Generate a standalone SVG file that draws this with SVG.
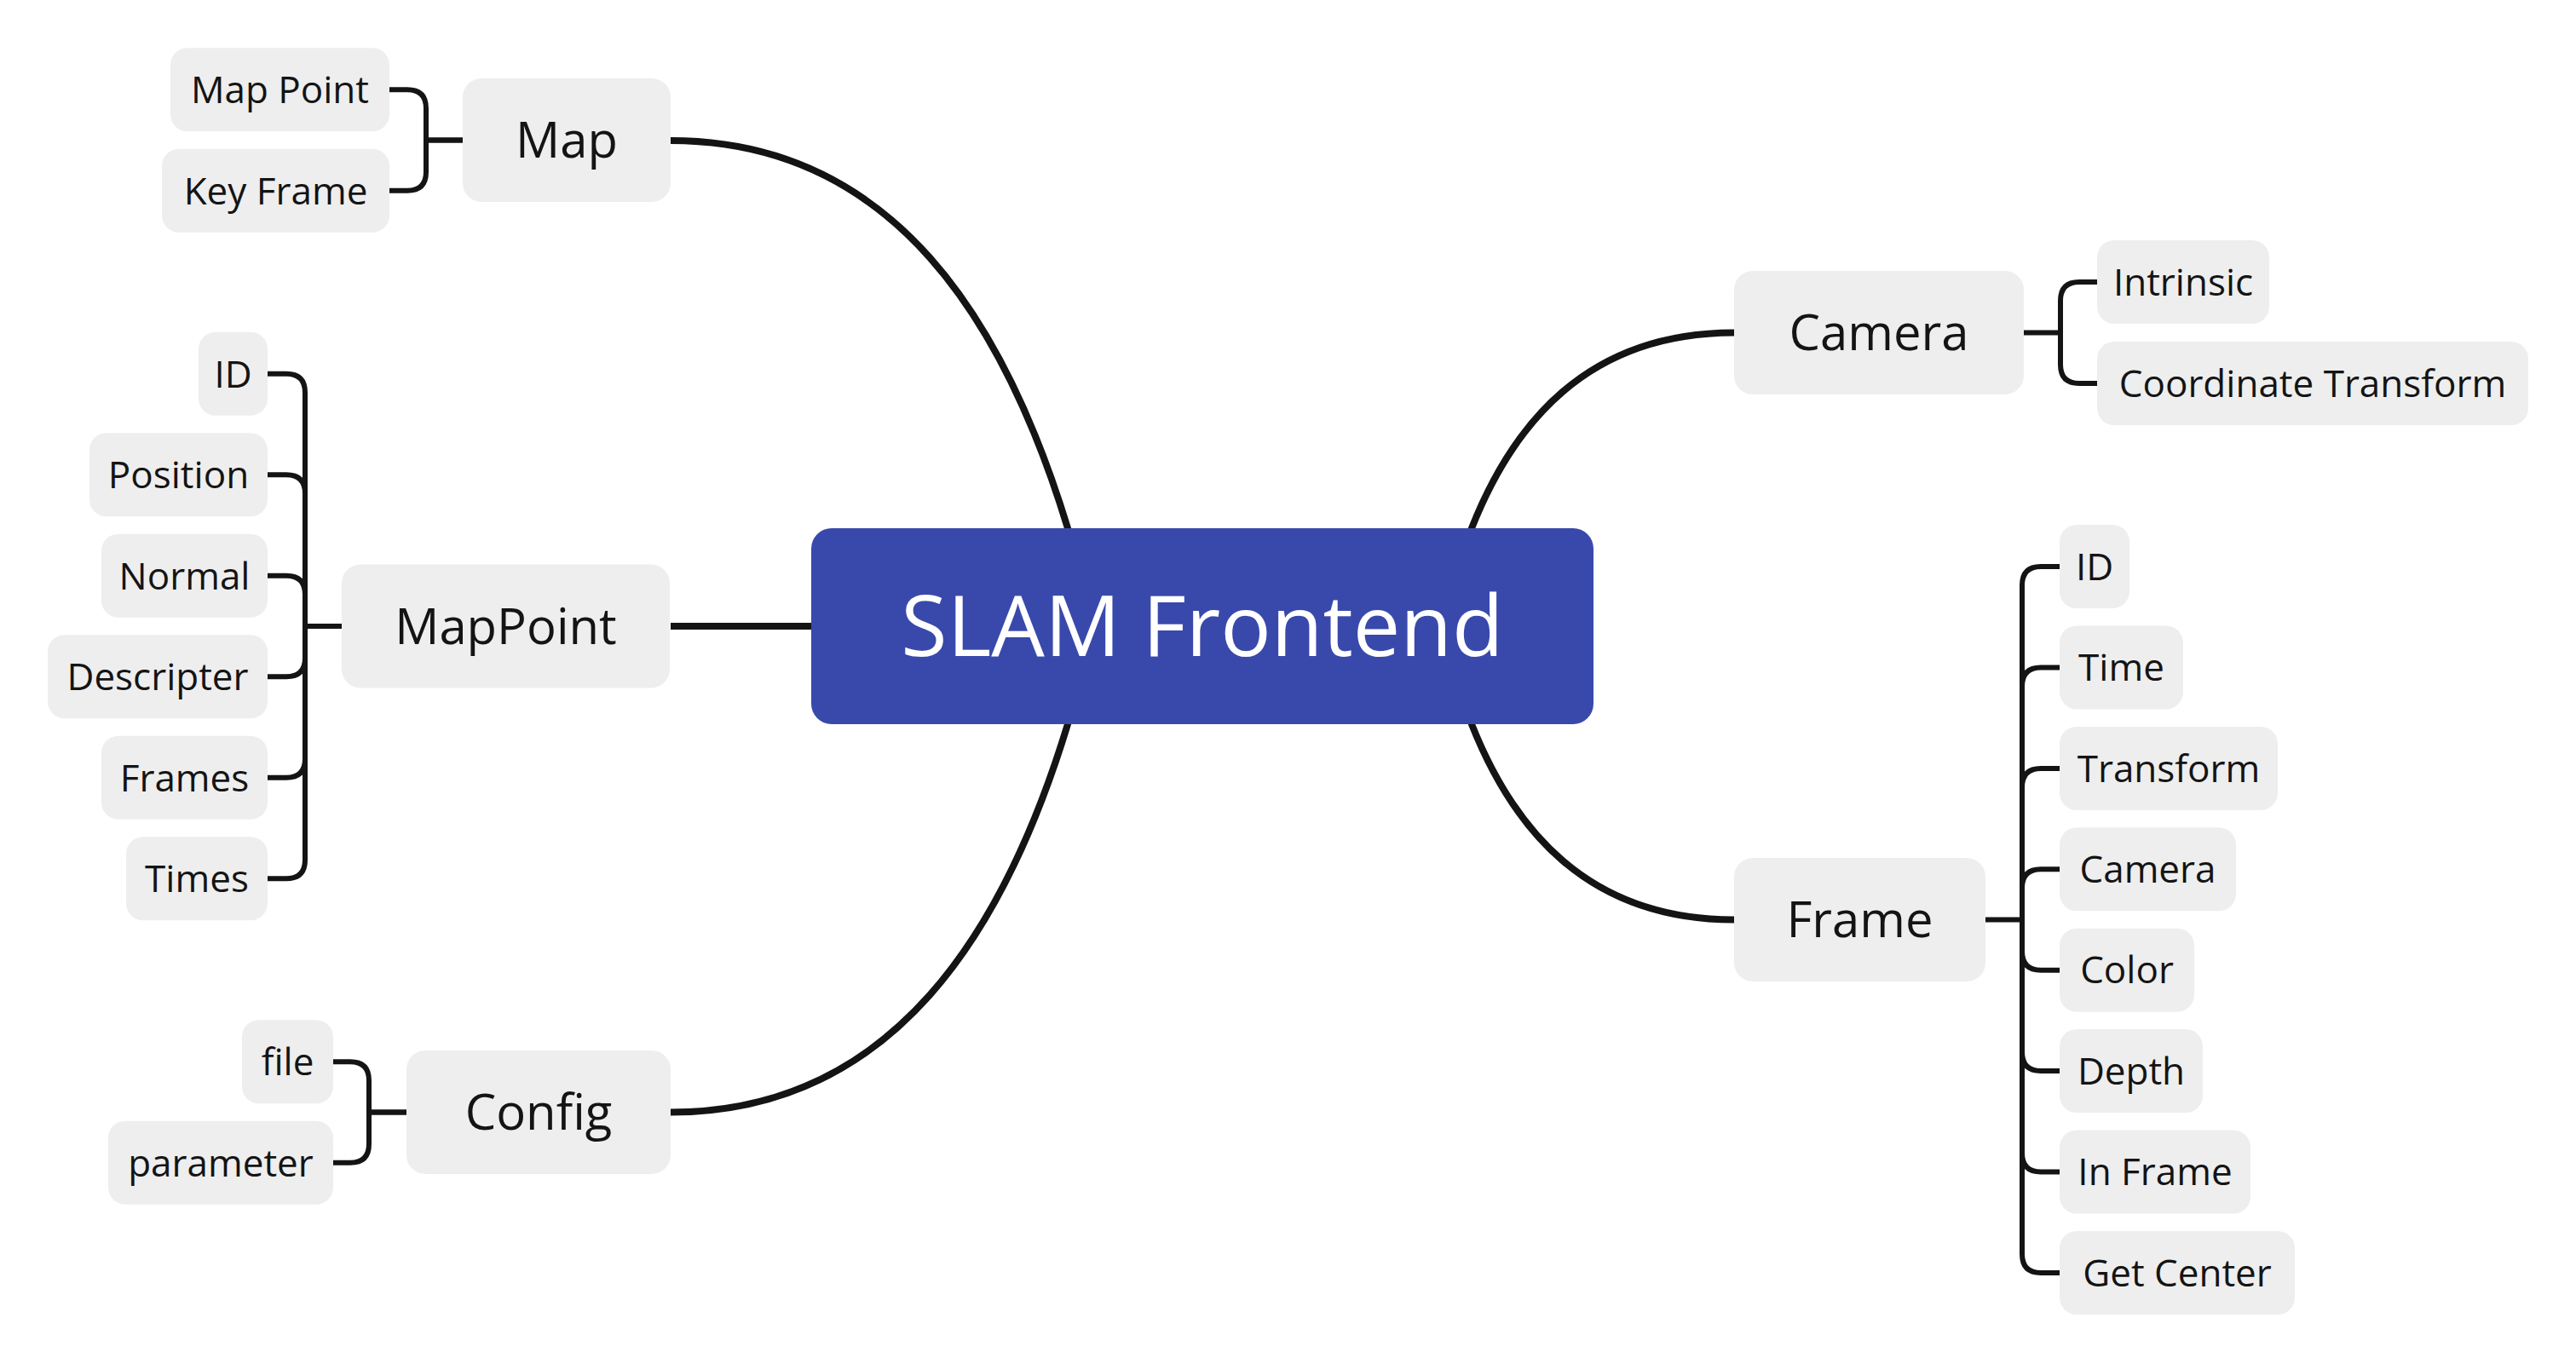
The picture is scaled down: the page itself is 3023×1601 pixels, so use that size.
<svg xmlns="http://www.w3.org/2000/svg" width="3023" height="1601" viewBox="0 0 3023 1601">
<style>
.bg{fill:#ffffff}
.main{fill:none;stroke:#141414;stroke-width:8}
.sub{fill:none;stroke:#141414;stroke-width:6;stroke-linejoin:round}
.box{fill:#eeeeee}
.root{fill:#3949ab}
.t{font-family:"Open Sans","Noto Sans",sans-serif;fill:#141414;text-anchor:middle}
.tc{font-size:44px}
.tm{font-size:58px}
.tr{font-size:99px;fill:#ffffff}
</style>
<rect class="bg" x="0" y="0" width="3023" height="1601"/>
<g id="connectors">
<path class="main" d="M 787 165 C 1050 165 1180 380 1253 620 L 1262 650"/>
<path class="main" d="M 787 1305.5 C 1050 1305.5 1180 1090 1253 850 L 1262 820"/>
<path class="main" d="M 2035 390.5 C 1861 390.5 1775 499 1727 620 L 1719 645"/>
<path class="main" d="M 2035 1079.5 C 1861 1079.5 1775 971 1727 850 L 1719 825"/>
<path class="main" d="M 787 735 H 960"/>
<path class="sub" d="M 457 105.25 H 478 Q 500 105.25 500 127.25 V 164.5 H 543"/>
<path class="sub" d="M 457 223.75 H 478 Q 500 223.75 500 201.75 V 164.5 H 543"/>
<path class="sub" d="M 314 438.75 H 336 Q 358 438.75 358 460.75 V 735 H 401"/>
<path class="sub" d="M 314 557.25 H 336 Q 358 557.25 358 579.25 V 735"/>
<path class="sub" d="M 314 675.75 H 336 Q 358 675.75 358 697.75 V 735"/>
<path class="sub" d="M 314 794.25 H 336 Q 358 794.25 358 772.25 V 735"/>
<path class="sub" d="M 314 912.75 H 336 Q 358 912.75 358 890.75 V 735"/>
<path class="sub" d="M 314 1031.25 H 336 Q 358 1031.25 358 1009.25 V 735"/>
<path class="sub" d="M 391 1246.25 H 411 Q 433 1246.25 433 1268.25 V 1305.5 H 477"/>
<path class="sub" d="M 391 1364.75 H 411 Q 433 1364.75 433 1342.75 V 1305.5 H 477"/>
<path class="sub" d="M 2375 390.5 H 2418 V 353 Q 2418 331 2440 331 H 2461"/>
<path class="sub" d="M 2418 390.5 V 428 Q 2418 450 2440 450 H 2461"/>
<path class="sub" d="M 2330 1079.5 H 2373 V 687 Q 2373 665 2395 665 H 2417"/>
<path class="sub" d="M 2373 1079.5 V 805.4 Q 2373 783.4 2395 783.4 H 2417"/>
<path class="sub" d="M 2373 1079.5 V 923.9 Q 2373 901.9 2395 901.9 H 2417"/>
<path class="sub" d="M 2373 1079.5 V 1042.3 Q 2373 1020.3 2395 1020.3 H 2417"/>
<path class="sub" d="M 2373 1079.5 V 1116.7 Q 2373 1138.7 2395 1138.7 H 2417"/>
<path class="sub" d="M 2373 1079.5 V 1235.1 Q 2373 1257.1 2395 1257.1 H 2417"/>
<path class="sub" d="M 2373 1079.5 V 1353.6 Q 2373 1375.6 2395 1375.6 H 2417"/>
<path class="sub" d="M 2373 1079.5 V 1472 Q 2373 1494 2395 1494 H 2417"/>
</g>
<g id="root"><rect class="root" x="952" y="620" width="918" height="230" rx="24"/><text class="t tr" x="1411" y="770">SLAM Frontend</text></g>
<g id="map"><rect class="box" x="543" y="92" width="244" height="145" rx="22"/><text class="t tm" x="665" y="185">Map</text></g>
<g id="map-point"><rect class="box" x="200" y="56.25" width="257" height="98" rx="20"/><text class="t tc" x="328.5" y="121">Map Point</text></g>
<g id="key-frame"><rect class="box" x="190" y="174.75" width="267" height="98" rx="20"/><text class="t tc" x="323.5" y="239.5">Key Frame</text></g>
<g id="mappoint"><rect class="box" x="401" y="662.5" width="385" height="145" rx="22"/><text class="t tm" x="593.5" y="756">MapPoint</text></g>
<g id="mp-id"><rect class="box" x="233" y="389.75" width="81" height="98" rx="20"/><text class="t tc" x="273.5" y="454.5">ID</text></g>
<g id="mp-position"><rect class="box" x="105" y="508.25" width="209" height="98" rx="20"/><text class="t tc" x="209.5" y="573">Position</text></g>
<g id="mp-normal"><rect class="box" x="119" y="626.75" width="195" height="98" rx="20"/><text class="t tc" x="216.5" y="691.5">Normal</text></g>
<g id="mp-descripter"><rect class="box" x="56" y="745.25" width="258" height="98" rx="20"/><text class="t tc" x="185" y="810">Descripter</text></g>
<g id="mp-frames"><rect class="box" x="119" y="863.75" width="195" height="98" rx="20"/><text class="t tc" x="216.5" y="928.5">Frames</text></g>
<g id="mp-times"><rect class="box" x="148" y="982.25" width="166" height="98" rx="20"/><text class="t tc" x="231" y="1047">Times</text></g>
<g id="config"><rect class="box" x="477" y="1233" width="310" height="145" rx="22"/><text class="t tm" x="632" y="1326">Config</text></g>
<g id="cfg-file"><rect class="box" x="284" y="1197.25" width="107" height="98" rx="20"/><text class="t tc" x="337.5" y="1262">file</text></g>
<g id="cfg-parameter"><rect class="box" x="127" y="1315.75" width="264" height="98" rx="20"/><text class="t tc" x="259" y="1380.5">parameter</text></g>
<g id="camera"><rect class="box" x="2035" y="318" width="340" height="145" rx="22"/><text class="t tm" x="2205" y="411">Camera</text></g>
<g id="cam-intrinsic"><rect class="box" x="2461" y="282" width="202" height="98" rx="20"/><text class="t tc" x="2562" y="346.5">Intrinsic</text></g>
<g id="cam-coord"><rect class="box" x="2461" y="401" width="506" height="98" rx="20"/><text class="t tc" x="2714" y="465.5">Coordinate Transform</text></g>
<g id="frame"><rect class="box" x="2035" y="1007" width="295" height="145" rx="22"/><text class="t tm" x="2182.5" y="1100">Frame</text></g>
<g id="fr-id"><rect class="box" x="2417" y="616" width="82" height="98" rx="20"/><text class="t tc" x="2458" y="680.5">ID</text></g>
<g id="fr-time"><rect class="box" x="2417" y="734.4" width="145" height="98" rx="20"/><text class="t tc" x="2489.5" y="799">Time</text></g>
<g id="fr-transform"><rect class="box" x="2417" y="852.9" width="256" height="98" rx="20"/><text class="t tc" x="2545" y="917.5">Transform</text></g>
<g id="fr-camera"><rect class="box" x="2417" y="971.3" width="207" height="98" rx="20"/><text class="t tc" x="2520.5" y="1036">Camera</text></g>
<g id="fr-color"><rect class="box" x="2417" y="1089.7" width="158" height="98" rx="20"/><text class="t tc" x="2496" y="1154.4">Color</text></g>
<g id="fr-depth"><rect class="box" x="2417" y="1208.1" width="168" height="98" rx="20"/><text class="t tc" x="2501" y="1272.8">Depth</text></g>
<g id="fr-inframe"><rect class="box" x="2417" y="1326.6" width="224" height="98" rx="20"/><text class="t tc" x="2529" y="1391.3">In Frame</text></g>
<g id="fr-getcenter"><rect class="box" x="2417" y="1445" width="276" height="98" rx="20"/><text class="t tc" x="2555" y="1509.7">Get Center</text></g>
</svg>
